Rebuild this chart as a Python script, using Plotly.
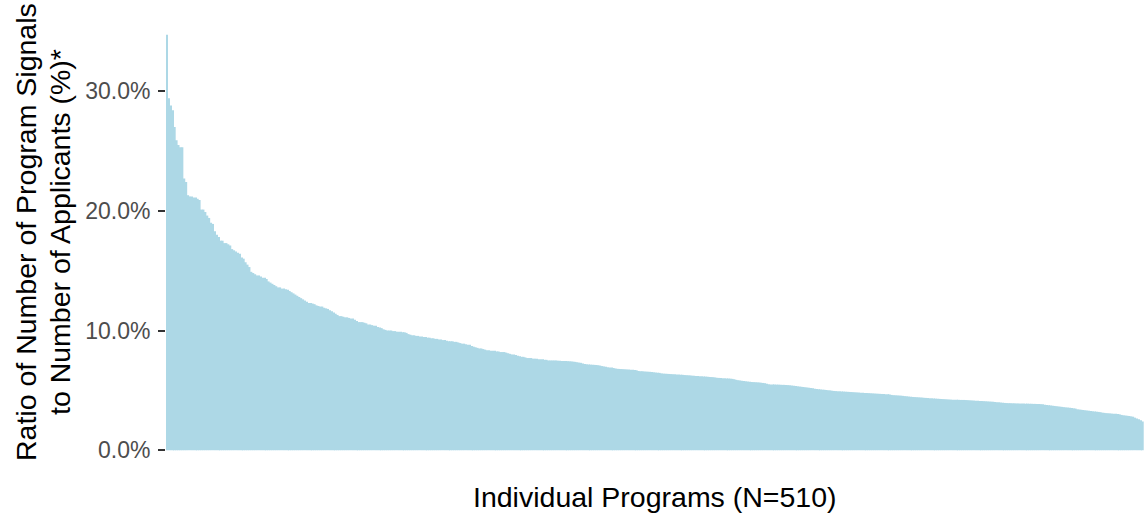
import plotly.graph_objects as go

# Ratio (%) of program signals to applicants, one value per program, sorted descending
ratio_pct = [
    34.7, 29.4, 28.8, 28.4, 27.0, 25.9, 25.5, 25.3, 25.3, 22.7,
    22.4, 21.3, 21.2, 21.2, 21.1, 21.1, 21.0, 20.9, 20.1, 20.1,
    19.9, 19.6, 19.4, 19.0, 18.9, 18.3, 18.0, 17.8, 17.5, 17.5,
    17.3, 17.3, 17.2, 17.1, 16.8, 16.7, 16.6, 16.5, 16.4, 16.1,
    16.0, 15.7, 15.5, 15.3, 14.9, 14.8, 14.7, 14.6, 14.6, 14.5,
    14.4, 14.4, 14.3, 14.1, 14.0, 13.9, 13.8, 13.7, 13.6, 13.6,
    13.5, 13.5, 13.45, 13.4, 13.3, 13.2, 13.1, 13.0, 12.9, 12.8,
    12.7, 12.6, 12.5, 12.4, 12.3, 12.3, 12.25, 12.2, 12.1, 12.05,
    12.0, 12.0, 11.9, 11.85, 11.8, 11.7, 11.6, 11.5, 11.4, 11.3,
    11.2, 11.2, 11.15, 11.1, 11.1, 11.05, 11.0, 11.0, 10.9, 10.8,
    10.7, 10.7, 10.7, 10.65, 10.6, 10.5, 10.5, 10.45, 10.4, 10.4,
    10.3, 10.25, 10.2, 10.1, 10.05, 10.0, 10.0, 10.0, 9.95, 9.95,
    9.9, 9.9, 9.9, 9.85, 9.85, 9.8, 9.7, 9.65, 9.6, 9.6,
    9.55, 9.55, 9.5, 9.5, 9.45, 9.45, 9.4, 9.4, 9.35, 9.35,
    9.3, 9.3, 9.25, 9.25, 9.2, 9.2, 9.15, 9.1, 9.1, 9.1,
    9.05, 9.05, 9.0, 8.95, 8.9, 8.9, 8.85, 8.8, 8.8, 8.7,
    8.65, 8.6, 8.55, 8.5, 8.5, 8.45, 8.4, 8.35, 8.35, 8.3,
    8.3, 8.3, 8.25, 8.25, 8.2, 8.2, 8.2, 8.15, 8.1, 8.05,
    8.0, 8.0, 7.95, 7.9, 7.85, 7.8, 7.8, 7.75, 7.7, 7.7,
    7.7, 7.65, 7.65, 7.65, 7.6, 7.6, 7.6, 7.55, 7.55, 7.5,
    7.5, 7.5, 7.5, 7.5, 7.48, 7.47, 7.46, 7.45, 7.45, 7.44,
    7.43, 7.42, 7.4, 7.38, 7.35, 7.32, 7.3, 7.25, 7.2, 7.18,
    7.16, 7.15, 7.14, 7.13, 7.12, 7.1, 7.07, 7.03, 7.0, 6.97,
    6.94, 6.92, 6.9, 6.87, 6.83, 6.8, 6.79, 6.78, 6.77, 6.76,
    6.75, 6.74, 6.73, 6.72, 6.7, 6.68, 6.62, 6.6, 6.6, 6.58,
    6.57, 6.56, 6.55, 6.54, 6.52, 6.5, 6.48, 6.46, 6.42, 6.4,
    6.39, 6.38, 6.37, 6.36, 6.35, 6.34, 6.33, 6.32, 6.31, 6.3,
    6.28, 6.27, 6.26, 6.25, 6.23, 6.22, 6.2, 6.19, 6.18, 6.17,
    6.16, 6.15, 6.14, 6.12, 6.11, 6.1, 6.08, 6.05, 6.04, 6.03,
    6.02, 6.01, 6.0, 5.99, 5.98, 5.96, 5.93, 5.88, 5.85, 5.83,
    5.8, 5.78, 5.76, 5.74, 5.72, 5.7, 5.69, 5.68, 5.67, 5.66,
    5.64, 5.62, 5.6, 5.55, 5.52, 5.5, 5.5, 5.49, 5.48, 5.48,
    5.47, 5.46, 5.46, 5.45, 5.44, 5.42, 5.4, 5.38, 5.36, 5.34,
    5.32, 5.3, 5.28, 5.26, 5.24, 5.22, 5.2, 5.18, 5.14, 5.12,
    5.1, 5.08, 5.06, 5.05, 5.03, 5.01, 5.0, 4.97, 4.95, 4.94,
    4.93, 4.92, 4.91, 4.9, 4.89, 4.88, 4.87, 4.86, 4.85, 4.84,
    4.83, 4.82, 4.81, 4.8, 4.79, 4.78, 4.77, 4.76, 4.75, 4.74,
    4.73, 4.72, 4.71, 4.7, 4.69, 4.68, 4.67, 4.66, 4.62, 4.6,
    4.59, 4.58, 4.57, 4.56, 4.54, 4.52, 4.5, 4.48, 4.46, 4.45,
    4.44, 4.43, 4.42, 4.41, 4.4, 4.38, 4.37, 4.36, 4.35, 4.34,
    4.32, 4.31, 4.3, 4.29, 4.28, 4.27, 4.26, 4.25, 4.24, 4.23,
    4.22, 4.22, 4.21, 4.21, 4.2, 4.2, 4.2, 4.19, 4.18, 4.17,
    4.16, 4.15, 4.14, 4.13, 4.12, 4.11, 4.1, 4.09, 4.08, 4.07,
    4.06, 4.05, 4.03, 4.01, 4.0, 3.98, 3.96, 3.95, 3.94, 3.93,
    3.93, 3.92, 3.92, 3.91, 3.91, 3.9, 3.9, 3.9, 3.89, 3.89,
    3.88, 3.88, 3.87, 3.87, 3.86, 3.86, 3.85, 3.84, 3.8, 3.78,
    3.76, 3.74, 3.72, 3.7, 3.68, 3.66, 3.64, 3.62, 3.6, 3.58,
    3.56, 3.54, 3.52, 3.5, 3.48, 3.42, 3.4, 3.38, 3.36, 3.34,
    3.32, 3.3, 3.28, 3.26, 3.24, 3.22, 3.2, 3.18, 3.14, 3.12,
    3.1, 3.09, 3.08, 3.06, 3.05, 3.04, 3.02, 3.0, 2.95, 2.92,
    2.9, 2.88, 2.86, 2.83, 2.8, 2.72, 2.66, 2.58, 2.5, 2.4,
]
program_rank = list(range(1, len(ratio_pct) + 1))

y_tick_vals = [0, 10, 20, 30]
y_tick_text = ["0.0%", "10.0%", "20.0%", "30.0%"]

x_title = "Individual Programs (N=510)"
y_title_lines = ["Ratio of Number of Program Signals", "to Number of Applicants (%)*"]

FONT = "Liberation Sans, Arial, sans-serif"
BAR_COLOR = "#ADD8E6"

fig = go.Figure(
    go.Bar(
        x=program_rank,
        y=ratio_pct,
        marker=dict(color=BAR_COLOR, line=dict(width=0)),
        hoverinfo="skip",
    )
)

ymax = max(ratio_pct)
pad = 0.05 * ymax

W, H = 1144, 517
ML, MR, MT, MB = 166, 0, 14, 46
title_center_y = (H - MB - 232) / (H - MB - MT)

annotations = [
    dict(
        text=x_title,
        xref="paper", yref="paper",
        x=0.5, y=0,
        xanchor="center", yanchor="middle",
        yshift=-26,
        showarrow=False,
        font=dict(family=FONT, size=28.5, color="black"),
    )
]
for line_text, cx in zip(y_title_lines, [26, 60]):
    annotations.append(
        dict(
            text=line_text,
            xref="paper", yref="paper",
            x=0, y=title_center_y,
            xanchor="center", yanchor="middle",
            xshift=cx - ML,
            textangle=-90,
            showarrow=False,
            font=dict(family=FONT, size=28.5, color="black"),
        )
    )

fig.update_layout(
    width=W,
    height=H,
    margin=dict(l=ML, r=MR, t=MT, b=MB, pad=0),
    paper_bgcolor="white",
    plot_bgcolor="white",
    bargap=0.1,
    showlegend=False,
    font=dict(family=FONT),
    xaxis=dict(
        range=[0.4, len(ratio_pct) + 0.6],
        showticklabels=False,
        ticks="",
        showgrid=False,
        zeroline=False,
        showline=False,
    ),
    yaxis=dict(
        range=[-pad, ymax + pad],
        tickvals=y_tick_vals,
        ticktext=y_tick_text,
        ticks="outside",
        ticklen=7,
        tickwidth=1.6,
        tickcolor="#333333",
        ticklabelstandoff=3,
        tickfont=dict(family=FONT, size=23, color="#4D4D4D"),
        showgrid=False,
        zeroline=False,
        showline=False,
    ),
    annotations=annotations,
)

fig.write_html(
    "out.html",
    config={"displayModeBar": False},
    post_script="document.body.style.margin='0';document.body.style.overflow='hidden';",
)
